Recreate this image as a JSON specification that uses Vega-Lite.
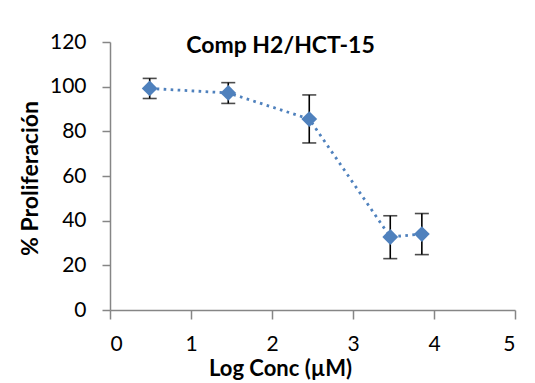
{
  "$schema": "https://vega.github.io/schema/vega-lite/v6.json",
  "width": 405,
  "height": 268,
  "autosize": {"type": "none"},
  "padding": {"left": 110, "top": 42, "right": 20, "bottom": 73},
  "background": "white",
  "config": {
    "font": "Lato",
    "view": {"stroke": null}
  },
  "title": {
    "text": "Comp H2/HCT-15",
    "font": "Lato",
    "fontSize": 23,
    "fontWeight": "bold",
    "color": "#000000",
    "anchor": "middle",
    "offset": -27,
    "dx": -32
  },
  "data": {
    "values": [
      {"x": 0.49, "y": 99.2, "lo": 94.7, "hi": 103.7},
      {"x": 1.46, "y": 97.2, "lo": 92.5, "hi": 101.8},
      {"x": 2.46, "y": 85.5, "lo": 74.8, "hi": 96.3},
      {"x": 3.46, "y": 32.7, "lo": 23.0, "hi": 42.2},
      {"x": 3.85, "y": 34.0, "lo": 24.8, "hi": 43.2}
    ]
  },
  "encoding": {
    "x": {
      "field": "x",
      "type": "quantitative",
      "scale": {"domain": [0, 5], "nice": false, "zero": false},
      "axis": {
        "title": "Log Conc (µM)",
        "values": [0, 1, 2, 3, 4, 5],
        "format": "d",
        "grid": false,
        "domainColor": "#868686",
        "domainWidth": 1.5,
        "tickColor": "#868686",
        "tickWidth": 1.5,
        "tickSize": 9,
        "labelFont": "Lato",
        "labelFontSize": 21,
        "labelColor": "#000000",
        "labelPadding": 14,
        "titleFont": "Lato",
        "titleFontSize": 22,
        "titleFontWeight": "bold",
        "titleColor": "#000000",
        "titleX": 170,
        "titleY": 65,
        "titleBaseline": "alphabetic"
      }
    }
  },
  "layer": [
    {
      "mark": {"type": "line", "color": "#4F81BD", "strokeWidth": 2.8, "strokeDash": [2.6, 4.4], "strokeCap": "butt"},
      "encoding": {
        "y": {
          "field": "y",
          "type": "quantitative",
          "scale": {"domain": [0, 120], "nice": false},
          "axis": {
            "title": "% Proliferación",
            "values": [0, 20, 40, 60, 80, 100, 120],
            "grid": false,
            "domainColor": "#868686",
            "domainWidth": 1.5,
            "tickColor": "#868686",
            "tickWidth": 1.5,
            "tickSize": 8,
            "labelFont": "Lato",
            "labelFontSize": 21,
            "labelColor": "#000000",
            "labelPadding": 16,
            "titleFont": "Lato",
            "titleFontSize": 23,
            "titleFontWeight": "bold",
            "titleColor": "#000000",
            "titleX": -80,
            "titleY": 136,
            "titleBaseline": "middle"
          }
        }
      }
    },
    {
      "mark": {"type": "rule", "color": "#000000", "strokeWidth": 1.6},
      "encoding": {
        "y": {"field": "lo", "type": "quantitative"},
        "y2": {"field": "hi"}
      }
    },
    {
      "mark": {"type": "tick", "color": "#000000", "thickness": 1.6, "size": 14, "orient": "horizontal"},
      "encoding": {"y": {"field": "lo", "type": "quantitative"}}
    },
    {
      "mark": {"type": "tick", "color": "#000000", "thickness": 1.6, "size": 14, "orient": "horizontal"},
      "encoding": {"y": {"field": "hi", "type": "quantitative"}}
    },
    {
      "mark": {"type": "point", "shape": "diamond", "filled": true, "color": "#4F81BD", "size": 250, "opacity": 1},
      "encoding": {"y": {"field": "y", "type": "quantitative"}}
    }
  ]
}
